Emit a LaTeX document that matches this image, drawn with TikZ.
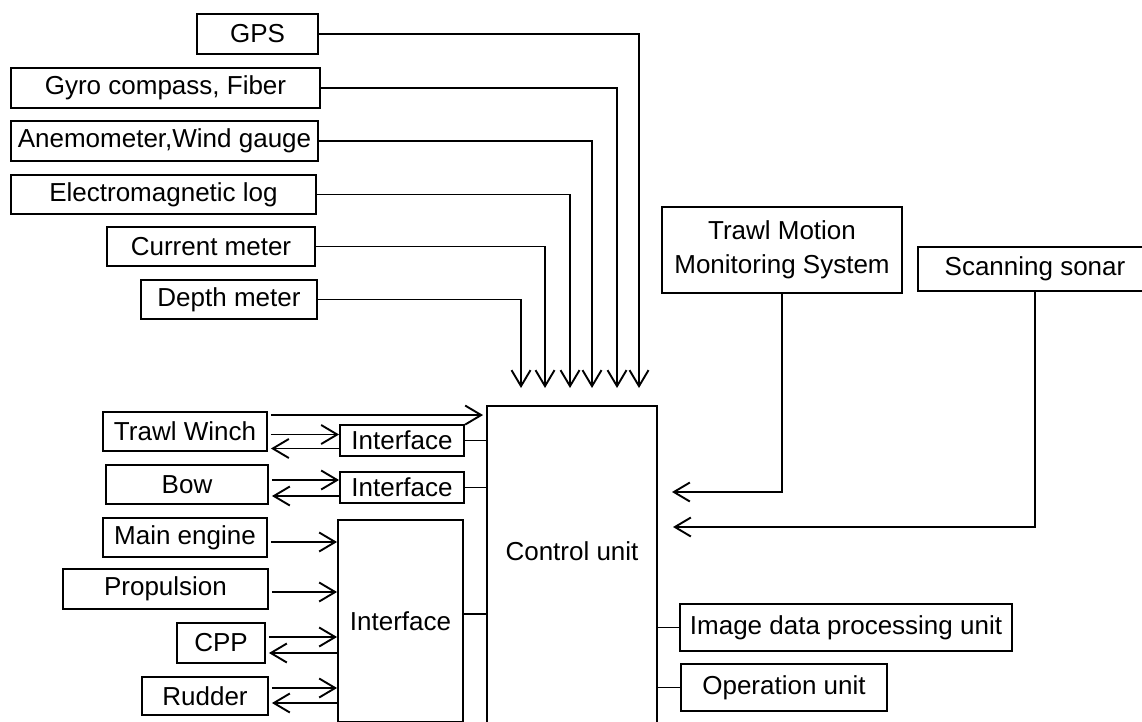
\documentclass[tikz,border=0pt]{standalone}
\usepackage{fontspec}
\setmainfont{Liberation Sans}
\usetikzlibrary{arrows.meta,calc}
\begin{document}
\begin{tikzpicture}[x=1pt,y=-1pt,
  box/.style={draw, line width=1.9pt, inner sep=0pt, font=\fontsize{26}{34}\selectfont},
  txt/.style={inner sep=0pt, font=\fontsize{26}{34}\selectfont},
  ln/.style={line width=1.9pt},
  arr/.style={line width=1.9pt, -{Straight Barb[length=16pt,width=19pt,line width=1.9pt]}}
]
\useasboundingbox (0,0) rectangle (1142,721);
\clip (0,0) rectangle (1142,721);

% top sensors
\node[box, minimum width=121pt, minimum height=40pt] (gps) at (257.5,34) {GPS};
\node[box, minimum width=309pt, minimum height=40pt] (gyro) at (165.5,88) {Gyro compass, Fiber};
\node[box, minimum width=307pt, minimum height=40pt] (anem) at (164.5,141) {Anemometer,Wind gauge};
\node[box, minimum width=305pt, minimum height=39pt] (elog) at (163.5,194.5) {Electromagnetic log};
\node[box, minimum width=208pt, minimum height=39pt] (curr) at (211,246.5) {Current meter};
\node[box, minimum width=176pt, minimum height=39pt] (depth) at (229,299.5) {Depth meter};

% control unit
\node[box, minimum width=170pt, minimum height=354pt] (cu) at (572,583) {};
\node[txt] (cutext) at (572,551) {Control unit};

% arrow tips above control unit
\coordinate (tGPS) at (639,388);
\coordinate (tGyro) at (617,388);
\coordinate (tAnem) at (592,388);
\coordinate (tElog) at (570,388);
\coordinate (tCurr) at (545,388);
\coordinate (tDepth) at (521,388);
\draw[arr] (gps.east) -| (tGPS);
\draw[arr] (gyro.east) -| (tGyro);
\draw[arr] (anem.east) -| (tAnem);
\draw[arr] (elog.east) -| (tElog);
\draw[arr] (curr.east) -| (tCurr);
\draw[arr] (depth.east) -| (tDepth);

% right side
\node[box, minimum width=240pt, minimum height=86pt, align=center] (tmms) at (782,250) {Trawl Motion\\Monitoring System};
\node[box, minimum width=234pt, minimum height=44pt] (sonar) at (1035,269) {Scanning sonar};
\coordinate (tTM) at (672,492);
\coordinate (tSS) at (673,527);
\draw[arr] (tmms.south) |- (tTM);
\draw[arr] (sonar.south) |- (tSS);

\node[box, minimum width=332pt, minimum height=47pt] (imgp) at (846,627.5) {Image data processing unit};
\node[box, minimum width=206pt, minimum height=47pt] (oper) at (784,687.5) {Operation unit};
\draw[ln] (imgp.west) -- (imgp.west -| cu.east);
\draw[ln] (oper.west) -- (oper.west -| cu.east);

% left side
\node[box, minimum width=164pt, minimum height=39pt] (tw) at (185,431.5) {Trawl Winch};
\node[box, minimum width=124pt, minimum height=31pt] (if1) at (402,440.5) {Interface};
\node[box, minimum width=162pt, minimum height=39pt] (bow) at (187,484.5) {Bow};
\node[box, minimum width=124pt, minimum height=31pt] (if2) at (402,487.5) {Interface};
\node[box, minimum width=164pt, minimum height=39pt] (me) at (185,537.5) {Main engine};
\node[box, minimum width=125pt, minimum height=202pt] (bigif) at (400.5,621) {Interface};
\node[box, minimum width=205pt, minimum height=40pt] (prop) at (165.5,589) {Propulsion};
\node[box, minimum width=88pt, minimum height=40pt] (cpp) at (221,643) {CPP};
\node[box, minimum width=126pt, minimum height=38pt] (rud) at (205,696) {Rudder};

\coordinate (twA) at ($(tw.north east)+(3,4)$);
\draw[arr, shorten >=3pt] (twA) -- (twA -| cu.west);

\draw[arr] ($(tw.east|-if1.west)+(3,-6)$) -- ($(if1.west)+(0,-6)$);
\draw[arr] ($(if1.west)+(0,8)$) -- ($(tw.east|-if1.west)+(3,8)$);
\draw[arr] ($(bow.east|-if2.west)+(3,-7.5)$) -- ($(if2.west)+(0,-7.5)$);
\draw[arr] ($(if2.west)+(0,8.5)$) -- ($(bow.east|-if2.west)+(3,8.5)$);

\draw[arr] ($(me.east)+(3,4.5)$) -- ($(me.east-|bigif.west)+(0,4.5)$);
\draw[arr] ($(prop.east)+(3,3)$) -- ($(prop.east-|bigif.west)+(0,3)$);
\draw[arr] ($(cpp.east)+(3,-6)$) -- ($(cpp.east-|bigif.west)+(0,-6)$);
\draw[arr] ($(cpp.east-|bigif.west)+(0,10)$) -- ($(cpp.east)+(3,10)$);
\draw[arr] ($(rud.east)+(3,-8)$) -- ($(rud.east-|bigif.west)+(0,-8)$);
\draw[arr] ($(rud.east-|bigif.west)+(0,7)$) -- ($(rud.east)+(3,7)$);

\draw[ln] (if1.east) -- (if1.east -| cu.west);
\draw[ln] (if2.east) -- (if2.east -| cu.west);
\draw[ln] ($(bigif.east)+(0,-7)$) -- ($(bigif.east -| cu.west)+(0,-7)$);
\end{tikzpicture}
\end{document}
